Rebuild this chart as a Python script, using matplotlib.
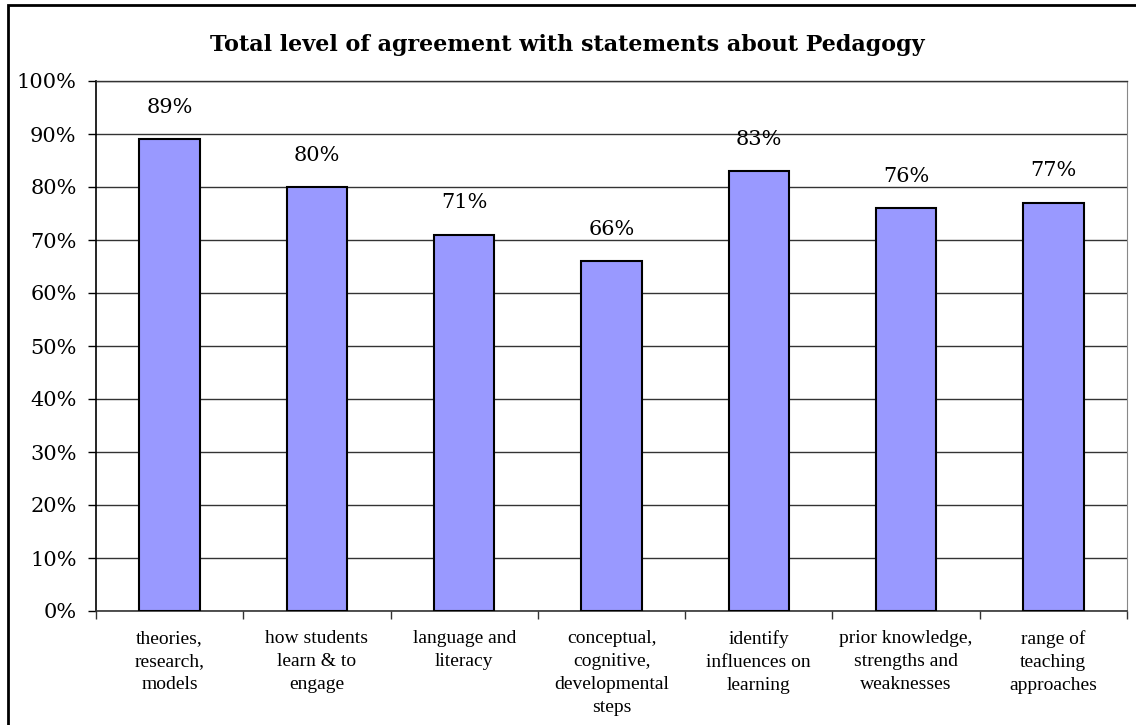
"""
Pedagogy survey: total agreement per statement, as a simple bar chart.
"""
import matplotlib.pyplot as plt
import numpy as np
from matplotlib.patches import Rectangle
from matplotlib.ticker import FixedLocator, PercentFormatter

# statements (x axis) and total agreement in percent
categories = [
    "theories,\nresearch,\nmodels",
    "how students\nlearn & to\nengage",
    "language and\nliteracy",
    "conceptual,\ncognitive,\ndevelopmental\nsteps",
    "identify\ninfluences on\nlearning",
    "prior knowledge,\nstrengths and\nweaknesses",
    "range of\nteaching\napproaches",
]
agreement = [89, 80, 71, 66, 83, 76, 77]
y_ticks = list(range(0, 101, 10))

BAR_COLOR = '#9999FF'
NUM_FONT = 'DejaVu Serif'
CAT_FONT = 'Liberation Serif'

fig = plt.figure(figsize=(11.36, 7.25), dpi=100)
ax = fig.add_axes([96 / 1136, 1 - 611 / 725, 1031 / 1136, 530 / 725])

x = np.arange(len(categories))
bars = ax.bar(x, agreement, width=0.41, color=BAR_COLOR,
              edgecolor='black', linewidth=1.5, zorder=3)

# value labels above each bar
for bar, val in zip(bars, agreement):
    ax.annotate(f'{val}%',
                xy=(bar.get_x() + bar.get_width() / 2, bar.get_height()),
                xytext=(0, 23), textcoords='offset points',
                ha='center', va='center', fontsize=15, family=NUM_FONT)

ax.set_xlim(-0.5, len(categories) - 0.5)
ax.set_ylim(0, 100)

# y axis: percent ticks with horizontal gridlines
ax.set_yticks(y_ticks)
ax.yaxis.set_major_formatter(PercentFormatter(decimals=0))
ax.tick_params(axis='y', direction='out', length=6, width=1, pad=8,
               labelsize=15, color='black')
for lbl in ax.get_yticklabels():
    lbl.set_family(NUM_FONT)
ax.grid(True, axis='y', color='#333333', linewidth=1, zorder=0)

# x axis: labels at centres, tick marks between categories
ax.set_xticks(x)
ax.set_xticklabels(categories, fontsize=14, family=CAT_FONT, linespacing=1.45,
                   va='top')
ax.tick_params(axis='x', which='major', length=0, pad=14)
ax.xaxis.set_minor_locator(FixedLocator(np.arange(-0.5, len(categories), 1.0)))
ax.tick_params(axis='x', which='minor', length=6, width=1, color='#333333')

ax.spines['left'].set_color('black')
ax.spines['left'].set_linewidth(1.2)
ax.spines['bottom'].set_color('#333333')
ax.spines['bottom'].set_linewidth(1.2)
ax.spines['right'].set_color('#888888')
ax.spines['top'].set_color('#333333')
ax.spines['top'].set_linewidth(1)

fig.text(567 / 1136, 1 - 45 / 725,
         'Total level of agreement with statements about Pedagogy',
         ha='center', va='center', fontsize=16, fontweight='bold',
         family=NUM_FONT)

# outer chart frame
fig.patches.append(Rectangle((8 / 1136, -0.02), 1.0, 1.02 - 5 / 725,
                             transform=fig.transFigure, fill=False,
                             edgecolor='black', linewidth=2))

fig.savefig('out.png', dpi=100)
